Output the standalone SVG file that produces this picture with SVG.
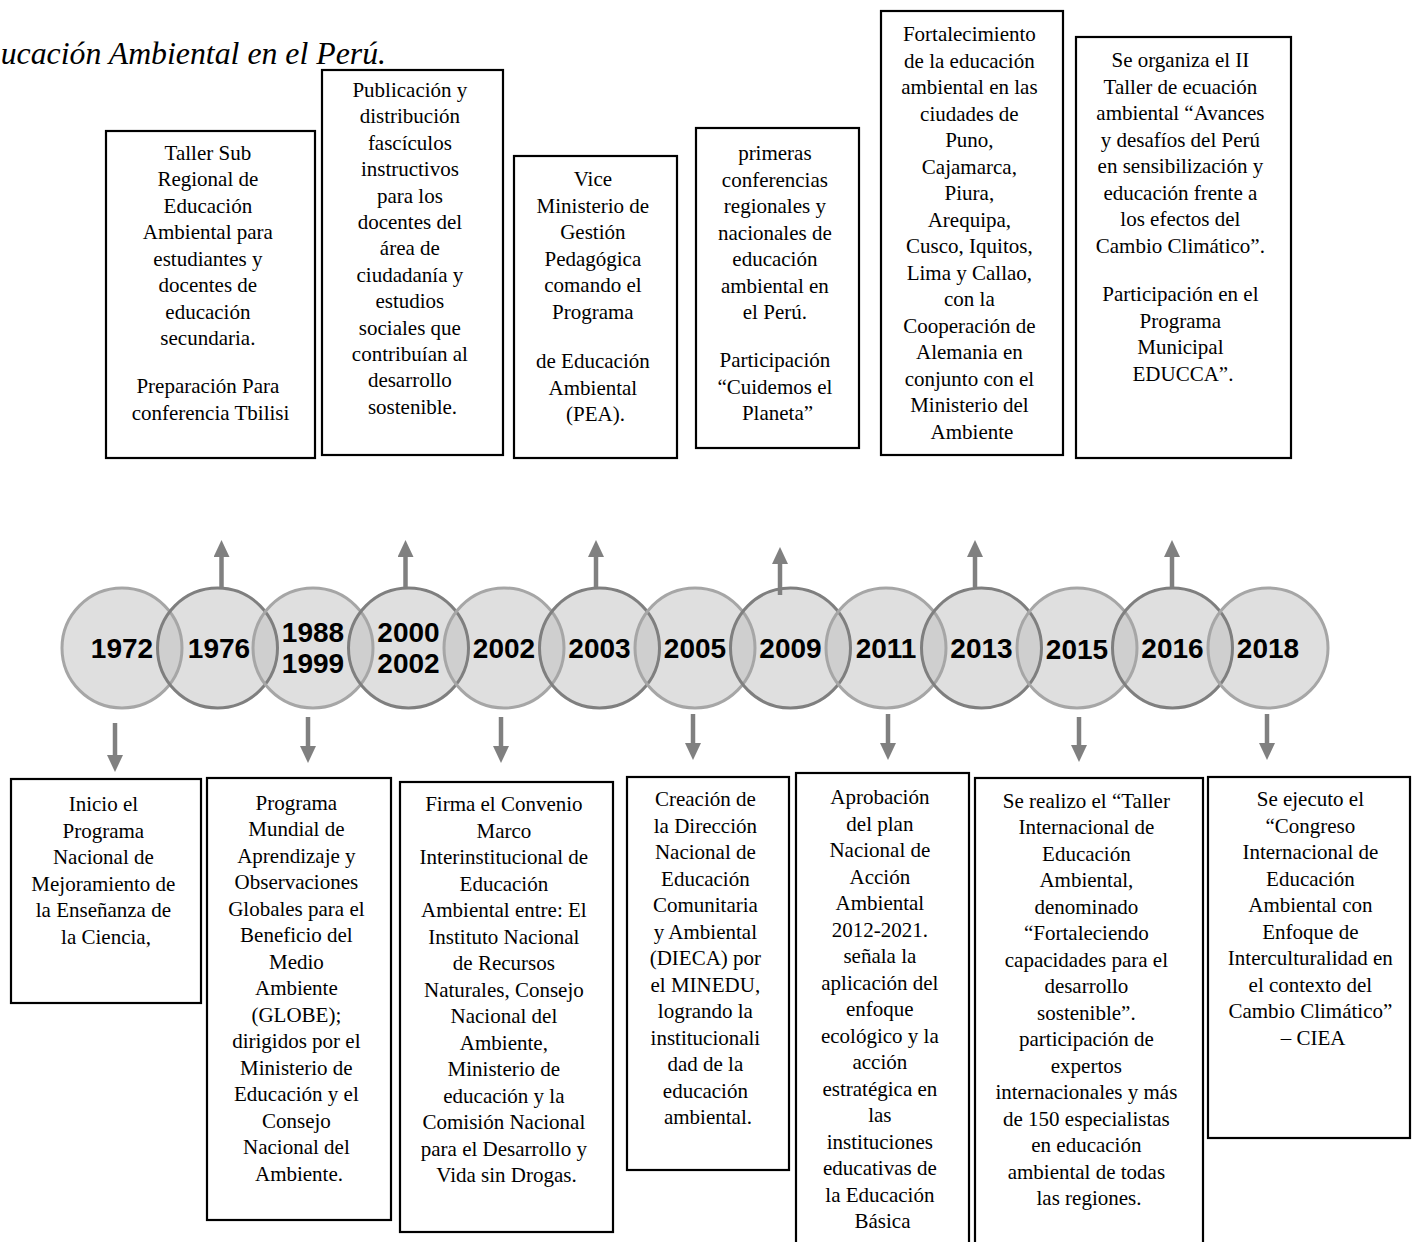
<svg xmlns="http://www.w3.org/2000/svg" width="1412" height="1242" viewBox="0 0 1412 1242">
  <style>
    .box { fill: #ffffff; stroke: #000000; stroke-width: 2.2; }
    .txt { font-family: "Liberation Serif", "Times New Roman", serif; font-size: 21px; fill: #000000; text-anchor: middle; }
    .title { font-family: "Liberation Serif", "Times New Roman", serif; font-size: 31.8px; font-style: italic; fill: #000000; text-anchor: end; }
    .disc { fill: #bfbfbf; fill-opacity: 0.5; stroke: none; }
    .rim-light { fill: none; stroke: #a6a6a6; stroke-width: 3; }
    .rim-dark { fill: none; stroke: #7f7f7f; stroke-width: 3; }
    .year { font-family: "Liberation Sans", Arial, sans-serif; font-size: 28px; font-weight: bold; fill: #000000; text-anchor: middle; }
    .arrow { stroke: #808080; stroke-width: 4.5; fill: none; marker-end: url(#head); }
  </style>
  <defs>
    <marker id="head" markerUnits="userSpaceOnUse" viewBox="0 0 17 16" markerWidth="17" markerHeight="16" refX="0" refY="8" orient="auto">
      <path d="M0,0 L17,8 L0,16 Z" fill="#808080"/>
    </marker>
  </defs>

  <rect width="1412" height="1242" fill="#ffffff"/>

  <text class="title" x="386" y="64">ucación Ambiental en el Perú.</text>

  <!-- timeline discs -->
  <g id="timeline">
    <g id="fills">
      <circle class="disc" cx="122" cy="648" r="60"/>
      <circle class="disc" cx="217.5" cy="648" r="60"/>
      <circle class="disc" cx="313" cy="648" r="60"/>
      <circle class="disc" cx="408.5" cy="648" r="60"/>
      <circle class="disc" cx="504" cy="648" r="60"/>
      <circle class="disc" cx="599.5" cy="648" r="60"/>
      <circle class="disc" cx="695" cy="648" r="60"/>
      <circle class="disc" cx="790.5" cy="648" r="60"/>
      <circle class="disc" cx="886" cy="648" r="60"/>
      <circle class="disc" cx="981.5" cy="648" r="60"/>
      <circle class="disc" cx="1077" cy="648" r="60"/>
      <circle class="disc" cx="1172.5" cy="648" r="60"/>
      <circle class="disc" cx="1268" cy="648" r="60"/>
    </g>
    <g id="y1972"><circle class="rim-light" cx="122" cy="648" r="60"/><text class="year" x="122" y="658">1972</text></g>
    <g id="y1976"><circle class="rim-dark" cx="217.5" cy="648" r="60"/><text class="year" x="219" y="658">1976</text></g>
    <g id="y1988"><circle class="rim-light" cx="313" cy="648" r="60"/><text class="year" x="313" y="642">1988</text><text class="year" x="313" y="673">1999</text></g>
    <g id="y2000"><circle class="rim-dark" cx="408.5" cy="648" r="60"/><text class="year" x="408.5" y="642">2000</text><text class="year" x="408.5" y="673">2002</text></g>
    <g id="y2002"><circle class="rim-light" cx="504" cy="648" r="60"/><text class="year" x="504" y="658">2002</text></g>
    <g id="y2003"><circle class="rim-dark" cx="599.5" cy="648" r="60"/><text class="year" x="599.5" y="658">2003</text></g>
    <g id="y2005"><circle class="rim-light" cx="695" cy="648" r="60"/><text class="year" x="695" y="658">2005</text></g>
    <g id="y2009"><circle class="rim-dark" cx="790.5" cy="648" r="60"/><text class="year" x="790.5" y="658">2009</text></g>
    <g id="y2011"><circle class="rim-light" cx="886" cy="648" r="60"/><text class="year" x="886" y="658">2011</text></g>
    <g id="y2013"><circle class="rim-dark" cx="981.5" cy="648" r="60"/><text class="year" x="981.5" y="658">2013</text></g>
    <g id="y2015"><circle class="rim-light" cx="1077" cy="648" r="60"/><text class="year" x="1077" y="659">2015</text></g>
    <g id="y2016"><circle class="rim-dark" cx="1172.5" cy="648" r="60"/><text class="year" x="1172.5" y="658">2016</text></g>
    <g id="y2018"><circle class="rim-light" cx="1268" cy="648" r="60"/><text class="year" x="1268" y="658">2018</text></g>
  </g>

  <!-- connectors: arrows from the discs to the event boxes -->
  <g id="connectors">
    <line class="arrow" x1="221.5" y1="587" x2="221.5" y2="557"/>
    <line class="arrow" x1="405.5" y1="587" x2="405.5" y2="557"/>
    <line class="arrow" x1="596" y1="587" x2="596" y2="557"/>
    <line class="arrow" x1="780" y1="595" x2="780" y2="564"/>
    <line class="arrow" x1="975" y1="587" x2="975" y2="557"/>
    <line class="arrow" x1="1172" y1="587" x2="1172" y2="557"/>

    <line class="arrow" x1="115" y1="723" x2="115" y2="755"/>
    <line class="arrow" x1="308" y1="717" x2="308" y2="746"/>
    <line class="arrow" x1="501" y1="717" x2="501" y2="746"/>
    <line class="arrow" x1="693" y1="714" x2="693" y2="743"/>
    <line class="arrow" x1="888" y1="714" x2="888" y2="743"/>
    <line class="arrow" x1="1079" y1="717" x2="1079" y2="745"/>
    <line class="arrow" x1="1267" y1="714" x2="1267" y2="743"/>
  </g>

  <!-- upper event boxes -->
  <g id="box-1976">
    <rect class="box" x="106" y="131" width="209" height="327"/>
    <text class="txt">
      <tspan x="210.5" y="159.5">Taller Sub</tspan>
      <tspan x="210.5" y="186">Regional de</tspan>
      <tspan x="210.5" y="212.5">Educación</tspan>
      <tspan x="210.5" y="239">Ambiental para</tspan>
      <tspan x="210.5" y="265.5">estudiantes y</tspan>
      <tspan x="210.5" y="292">docentes de</tspan>
      <tspan x="210.5" y="318.5">educación</tspan>
      <tspan x="210.5" y="345">secundaria.</tspan>
      <tspan x="210.5" y="393">Preparación Para</tspan>
      <tspan x="210.5" y="419.5">conferencia Tbilisi</tspan>
    </text>
  </g>

  <g id="box-2000">
    <rect class="box" x="322" y="70" width="181" height="385"/>
    <text class="txt">
      <tspan x="412.5" y="97">Publicación y</tspan>
      <tspan x="412.5" y="123.4">distribución</tspan>
      <tspan x="412.5" y="149.8">fascículos</tspan>
      <tspan x="412.5" y="176.2">instructivos</tspan>
      <tspan x="412.5" y="202.6">para los</tspan>
      <tspan x="412.5" y="229">docentes del</tspan>
      <tspan x="412.5" y="255.4">área de</tspan>
      <tspan x="412.5" y="281.8">ciudadanía y</tspan>
      <tspan x="412.5" y="308.2">estudios</tspan>
      <tspan x="412.5" y="334.6">sociales que</tspan>
      <tspan x="412.5" y="361">contribuían al</tspan>
      <tspan x="412.5" y="387.4">desarrollo</tspan>
      <tspan x="412.5" y="413.8">sostenible.</tspan>
    </text>
  </g>

  <g id="box-2003">
    <rect class="box" x="514" y="156" width="163" height="302"/>
    <text class="txt">
      <tspan x="595.5" y="186">Vice</tspan>
      <tspan x="595.5" y="212.5">Ministerio de</tspan>
      <tspan x="595.5" y="239">Gestión</tspan>
      <tspan x="595.5" y="265.5">Pedagógica</tspan>
      <tspan x="595.5" y="292">comando el</tspan>
      <tspan x="595.5" y="318.5">Programa</tspan>
      <tspan x="595.5" y="368">de Educación</tspan>
      <tspan x="595.5" y="394.5">Ambiental</tspan>
      <tspan x="595.5" y="421">(PEA).</tspan>
    </text>
  </g>

  <g id="box-2009">
    <rect class="box" x="696" y="128" width="163" height="320"/>
    <text class="txt">
      <tspan x="777.5" y="160">primeras</tspan>
      <tspan x="777.5" y="186.5">conferencias</tspan>
      <tspan x="777.5" y="213">regionales y</tspan>
      <tspan x="777.5" y="239.5">nacionales de</tspan>
      <tspan x="777.5" y="266">educación</tspan>
      <tspan x="777.5" y="292.5">ambiental en</tspan>
      <tspan x="777.5" y="319">el Perú.</tspan>
      <tspan x="777.5" y="367">Participación</tspan>
      <tspan x="777.5" y="393.5">“Cuidemos el</tspan>
      <tspan x="777.5" y="420">Planeta”</tspan>
    </text>
  </g>

  <g id="box-2013">
    <rect class="box" x="881" y="11" width="182" height="444"/>
    <text class="txt">
      <tspan x="972" y="41">Fortalecimiento</tspan>
      <tspan x="972" y="67.5">de la educación</tspan>
      <tspan x="972" y="94">ambiental en las</tspan>
      <tspan x="972" y="120.5">ciudades de</tspan>
      <tspan x="972" y="147">Puno,</tspan>
      <tspan x="972" y="173.5">Cajamarca,</tspan>
      <tspan x="972" y="200">Piura,</tspan>
      <tspan x="972" y="226.5">Arequipa,</tspan>
      <tspan x="972" y="253">Cusco, Iquitos,</tspan>
      <tspan x="972" y="279.5">Lima y Callao,</tspan>
      <tspan x="972" y="306">con la</tspan>
      <tspan x="972" y="332.5">Cooperación de</tspan>
      <tspan x="972" y="359">Alemania en</tspan>
      <tspan x="972" y="385.5">conjunto con el</tspan>
      <tspan x="972" y="412">Ministerio del</tspan>
      <tspan x="972" y="438.5">Ambiente</tspan>
    </text>
  </g>

  <g id="box-2016">
    <rect class="box" x="1076" y="37" width="215" height="421"/>
    <text class="txt">
      <tspan x="1183" y="67">Se organiza el II</tspan>
      <tspan x="1183" y="93.5">Taller de ecuación</tspan>
      <tspan x="1183" y="120">ambiental “Avances</tspan>
      <tspan x="1183" y="146.5">y desafíos del Perú</tspan>
      <tspan x="1183" y="173">en sensibilización y</tspan>
      <tspan x="1183" y="199.5">educación frente a</tspan>
      <tspan x="1183" y="226">los efectos del</tspan>
      <tspan x="1183" y="252.5">Cambio Climático”.</tspan>
      <tspan x="1183" y="301">Participación en el</tspan>
      <tspan x="1183" y="327.5">Programa</tspan>
      <tspan x="1183" y="354">Municipal</tspan>
      <tspan x="1183" y="380.5">EDUCCA”.</tspan>
    </text>
  </g>

  <!-- lower event boxes -->
  <g id="box-1972">
    <rect class="box" x="11" y="779" width="190" height="224"/>
    <text class="txt">
      <tspan x="106" y="811">Inicio el</tspan>
      <tspan x="106" y="837.5">Programa</tspan>
      <tspan x="106" y="864">Nacional de</tspan>
      <tspan x="106" y="890.5">Mejoramiento de</tspan>
      <tspan x="106" y="917">la Enseñanza de</tspan>
      <tspan x="106" y="943.5">la Ciencia,</tspan>
    </text>
  </g>

  <g id="box-1988">
    <rect class="box" x="207" y="778" width="184" height="442"/>
    <text class="txt">
      <tspan x="299" y="809.5">Programa</tspan>
      <tspan x="299" y="836">Mundial de</tspan>
      <tspan x="299" y="862.5">Aprendizaje y</tspan>
      <tspan x="299" y="889">Observaciones</tspan>
      <tspan x="299" y="915.5">Globales para el</tspan>
      <tspan x="299" y="942">Beneficio del</tspan>
      <tspan x="299" y="968.5">Medio</tspan>
      <tspan x="299" y="995">Ambiente</tspan>
      <tspan x="299" y="1021.5">(GLOBE);</tspan>
      <tspan x="299" y="1048">dirigidos por el</tspan>
      <tspan x="299" y="1074.5">Ministerio de</tspan>
      <tspan x="299" y="1101">Educación y el</tspan>
      <tspan x="299" y="1127.5">Consejo</tspan>
      <tspan x="299" y="1154">Nacional del</tspan>
      <tspan x="299" y="1180.5">Ambiente.</tspan>
    </text>
  </g>

  <g id="box-2002">
    <rect class="box" x="400" y="782" width="213" height="450"/>
    <text class="txt">
      <tspan x="506.5" y="811">Firma el Convenio</tspan>
      <tspan x="506.5" y="837.5">Marco</tspan>
      <tspan x="506.5" y="864">Interinstitucional de</tspan>
      <tspan x="506.5" y="890.5">Educación</tspan>
      <tspan x="506.5" y="917">Ambiental entre: El</tspan>
      <tspan x="506.5" y="943.5">Instituto Nacional</tspan>
      <tspan x="506.5" y="970">de Recursos</tspan>
      <tspan x="506.5" y="996.5">Naturales, Consejo</tspan>
      <tspan x="506.5" y="1023">Nacional del</tspan>
      <tspan x="506.5" y="1049.5">Ambiente,</tspan>
      <tspan x="506.5" y="1076">Ministerio de</tspan>
      <tspan x="506.5" y="1102.5">educación y la</tspan>
      <tspan x="506.5" y="1129">Comisión Nacional</tspan>
      <tspan x="506.5" y="1155.5">para el Desarrollo y</tspan>
      <tspan x="506.5" y="1182">Vida sin Drogas.</tspan>
    </text>
  </g>

  <g id="box-2005">
    <rect class="box" x="627" y="777" width="162" height="393"/>
    <text class="txt">
      <tspan x="708" y="806">Creación de</tspan>
      <tspan x="708" y="832.5">la Dirección</tspan>
      <tspan x="708" y="859">Nacional de</tspan>
      <tspan x="708" y="885.5">Educación</tspan>
      <tspan x="708" y="912">Comunitaria</tspan>
      <tspan x="708" y="938.5">y Ambiental</tspan>
      <tspan x="708" y="965">(DIECA) por</tspan>
      <tspan x="708" y="991.5">el MINEDU,</tspan>
      <tspan x="708" y="1018">logrando la</tspan>
      <tspan x="708" y="1044.5">institucionali</tspan>
      <tspan x="708" y="1071">dad de la</tspan>
      <tspan x="708" y="1097.5">educación</tspan>
      <tspan x="708" y="1124">ambiental.</tspan>
    </text>
  </g>

  <g id="box-2011">
    <rect class="box" x="796" y="773" width="173" height="480"/>
    <text class="txt">
      <tspan x="882.5" y="804">Aprobación</tspan>
      <tspan x="882.5" y="830.5">del plan</tspan>
      <tspan x="882.5" y="857">Nacional de</tspan>
      <tspan x="882.5" y="883.5">Acción</tspan>
      <tspan x="882.5" y="910">Ambiental</tspan>
      <tspan x="882.5" y="936.5">2012-2021.</tspan>
      <tspan x="882.5" y="963">señala la</tspan>
      <tspan x="882.5" y="989.5">aplicación del</tspan>
      <tspan x="882.5" y="1016">enfoque</tspan>
      <tspan x="882.5" y="1042.5">ecológico y la</tspan>
      <tspan x="882.5" y="1069">acción</tspan>
      <tspan x="882.5" y="1095.5">estratégica en</tspan>
      <tspan x="882.5" y="1122">las</tspan>
      <tspan x="882.5" y="1148.5">instituciones</tspan>
      <tspan x="882.5" y="1175">educativas de</tspan>
      <tspan x="882.5" y="1201.5">la Educación</tspan>
      <tspan x="882.5" y="1228">Básica</tspan>
    </text>
  </g>

  <g id="box-2015">
    <rect class="box" x="975" y="778" width="228" height="475"/>
    <text class="txt">
      <tspan x="1089" y="807.5">Se realizo el “Taller</tspan>
      <tspan x="1089" y="834">Internacional de</tspan>
      <tspan x="1089" y="860.5">Educación</tspan>
      <tspan x="1089" y="887">Ambiental,</tspan>
      <tspan x="1089" y="913.5">denominado</tspan>
      <tspan x="1089" y="940">“Fortaleciendo</tspan>
      <tspan x="1089" y="966.5">capacidades para el</tspan>
      <tspan x="1089" y="993">desarrollo</tspan>
      <tspan x="1089" y="1019.5">sostenible”.</tspan>
      <tspan x="1089" y="1046">participación de</tspan>
      <tspan x="1089" y="1072.5">expertos</tspan>
      <tspan x="1089" y="1099">internacionales y más</tspan>
      <tspan x="1089" y="1125.5">de 150 especialistas</tspan>
      <tspan x="1089" y="1152">en educación</tspan>
      <tspan x="1089" y="1178.5">ambiental de todas</tspan>
      <tspan x="1089" y="1205">las regiones.</tspan>
    </text>
  </g>

  <g id="box-2018">
    <rect class="box" x="1208" y="777" width="202" height="361"/>
    <text class="txt">
      <tspan x="1313" y="806">Se ejecuto el</tspan>
      <tspan x="1313" y="832.5">“Congreso</tspan>
      <tspan x="1313" y="859">Internacional de</tspan>
      <tspan x="1313" y="885.5">Educación</tspan>
      <tspan x="1313" y="912">Ambiental con</tspan>
      <tspan x="1313" y="938.5">Enfoque de</tspan>
      <tspan x="1313" y="965">Interculturalidad en</tspan>
      <tspan x="1313" y="991.5">el contexto del</tspan>
      <tspan x="1313" y="1018">Cambio Climático”</tspan>
      <tspan x="1313" y="1044.5">– CIEA</tspan>
    </text>
  </g>
</svg>
